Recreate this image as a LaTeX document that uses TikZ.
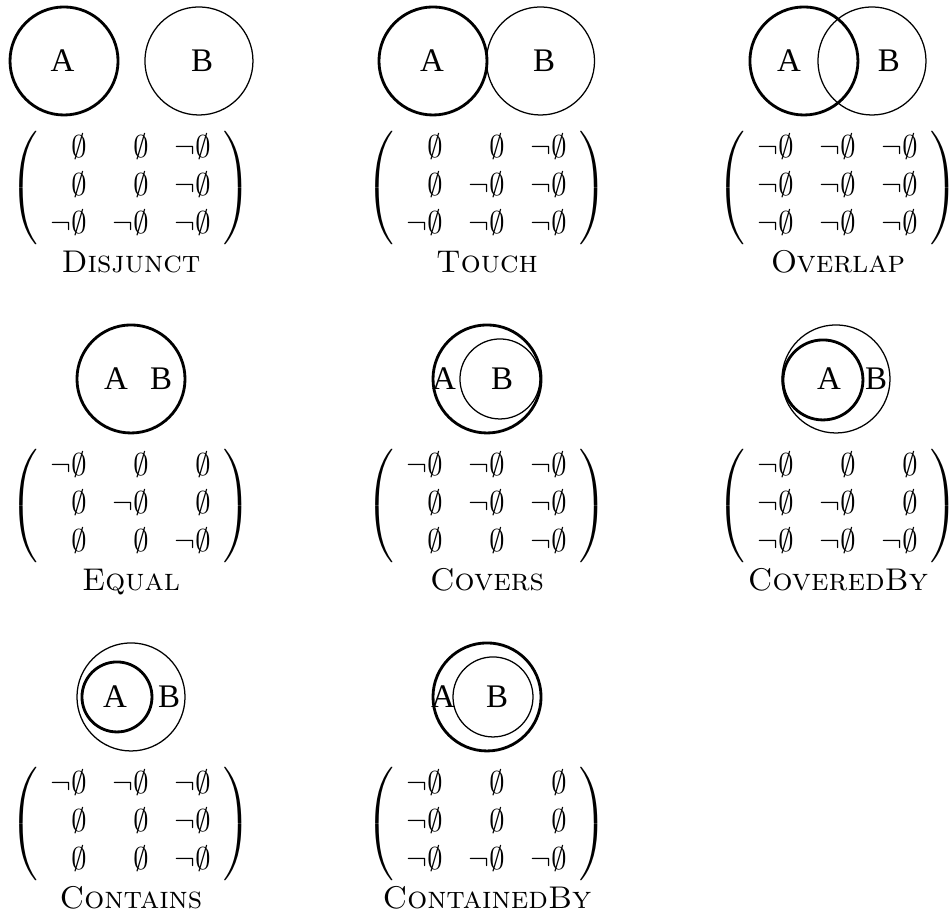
\documentclass[tikz,border=0pt]{standalone}
\usepackage{fontspec}
\newfontfamily\setfont{Liberation Serif}
\usepackage{amsmath}
\newcommand{\es}{\emptyset}
\newcommand{\nes}{\neg\emptyset}
\setlength{\arraycolsep}{4pt}

\begin{document}
\begin{tikzpicture}[
        setA/.style={circle, draw, line width=0.9pt, inner sep=0pt, minimum size=1.21cm},
        setB/.style={circle, draw, line width=0.4pt, inner sep=0pt, minimum size=1.21cm},
        smallset/.style={minimum size=0.896cm},
        lbl/.style={font=\setfont\fontsize{10.5}{12}\selectfont, inner sep=0pt},
        imat/.style={inner sep=0pt},
        relname/.style={anchor=base, inner sep=0pt}
    ]
        \useasboundingbox (0,0) rectangle (10.65,-10.2);

        % row 1
        \node[setA] (dA) at (0.717,-0.683) {};
        \node[setB] (dB) at (2.228,-0.683) {};
        \node[lbl] (dAt) at (0.700,-0.683) {A};
        \node[lbl] (dBt) at (2.262,-0.683) {B};
        \node[imat] (dM) at (1.467,-2.105) {$\left(\begin{array}{rrr} \es & \es & \nes\\ \es & \es & \nes\\ \nes & \nes & \nes \end{array}\right)$};
        \node[relname] (dN) at (1.467,-3.057) {\textsc{Disjunct}};

        \node[setA] (tA) at (4.849,-0.683) {};
        \node[setB] (tB) at (6.053,-0.683) {};
        \node[lbl] (tAt) at (4.838,-0.683) {A};
        \node[lbl] (tBt) at (6.092,-0.683) {B};
        \node[imat] (tM) at (5.454,-2.105) {$\left(\begin{array}{rrr} \es & \es & \nes\\ \es & \nes & \nes\\ \nes & \nes & \nes \end{array}\right)$};
        \node[relname] (tN) at (5.454,-3.057) {\textsc{Touch}};

        \node[setA] (oA) at (9.003,-0.683) {};
        \node[setB] (oB) at (9.765,-0.683) {};
        \node[lbl] (oAt) at (8.835,-0.683) {A};
        \node[lbl] (oBt) at (9.955,-0.683) {B};
        \node[imat] (oM) at (9.384,-2.105) {$\left(\begin{array}{rrr} \nes & \nes & \nes\\ \nes & \nes & \nes\\ \nes & \nes & \nes \end{array}\right)$};
        \node[relname] (oN) at (9.384,-3.057) {\textsc{Overlap}};

        % row 2
        \node[setA] (eA) at (1.467,-4.244) {};
        \node[lbl] (eAt) at (1.299,-4.244) {A};
        \node[lbl] (eBt) at (1.803,-4.244) {B};
        \node[imat] (eM) at (1.467,-5.666) {$\left(\begin{array}{rrr} \nes & \es & \es\\ \es & \nes & \es\\ \es & \es & \nes \end{array}\right)$};
        \node[relname] (eN) at (1.467,-6.618) {\textsc{Equal}};

        \node[setA] (cvA) at (5.454,-4.244) {};
        \node[setB, smallset] (cvB) at (5.599,-4.244) {};
        \node[lbl] (cvAt) at (4.972,-4.244) {A};
        \node[lbl] (cvBt) at (5.622,-4.244) {B};
        \node[imat] (cvM) at (5.454,-5.666) {$\left(\begin{array}{rrr} \nes & \nes & \nes\\ \es & \nes & \nes\\ \es & \es & \nes \end{array}\right)$};
        \node[relname] (cvN) at (5.454,-6.618) {\textsc{Covers}};

        \node[setB] (cbB) at (9.362,-4.244) {};
        \node[setA, smallset] (cbA) at (9.216,-4.255) {};
        \node[lbl] (cbAt) at (9.283,-4.244) {A};
        \node[lbl] (cbBt) at (9.810,-4.244) {B};
        \node[imat] (cbM) at (9.384,-5.666) {$\left(\begin{array}{rrr} \nes & \es & \es\\ \nes & \nes & \es\\ \nes & \nes & \nes \end{array}\right)$};
        \node[relname] (cbN) at (9.384,-6.618) {\textsc{CoveredBy}};

        % row 3
        \node[setB] (ctB) at (1.467,-7.805) {};
        \node[setA, minimum size=0.784cm] (ctA) at (1.310,-7.805) {};
        \node[lbl] (ctAt) at (1.288,-7.805) {A};
        \node[lbl] (ctBt) at (1.893,-7.805) {B};
        \node[imat] (ctM) at (1.467,-9.227) {$\left(\begin{array}{rrr} \nes & \nes & \nes\\ \es & \es & \nes\\ \es & \es & \nes \end{array}\right)$};
        \node[relname] (ctN) at (1.467,-10.179) {\textsc{Contains}};

        \node[setA] (cdA) at (5.454,-7.805) {};
        \node[setB, smallset] (cdB) at (5.521,-7.805) {};
        \node[lbl] (cdAt) at (4.961,-7.805) {A};
        \node[lbl] (cdBt) at (5.566,-7.805) {B};
        \node[imat] (cdM) at (5.454,-9.227) {$\left(\begin{array}{rrr} \nes & \es & \es\\ \nes & \es & \es\\ \nes & \nes & \nes \end{array}\right)$};
        \node[relname] (cdN) at (5.454,-10.179) {\textsc{ContainedBy}};
    \end{tikzpicture}
\end{document}
